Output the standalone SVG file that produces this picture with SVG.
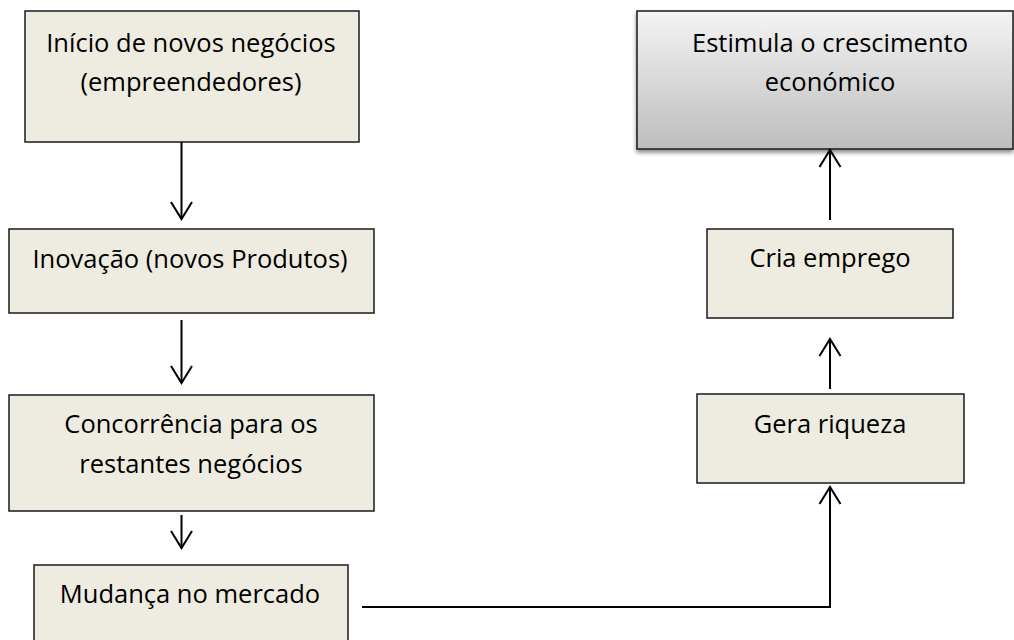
<svg xmlns="http://www.w3.org/2000/svg" width="1014" height="640" viewBox="0 0 1014 640">
<style>
.box{fill:#eeece1;stroke:#1a1a1a;stroke-width:1.5}
.t{font-family:"Open Sans","Noto Sans","Liberation Sans",sans-serif;font-size:25.5px;fill:#000;text-anchor:middle}
.c{fill:none;stroke:#000;stroke-width:2}
</style>
<defs>
<linearGradient id="g" x1="0" y1="0" x2="0" y2="1">
<stop offset="0" stop-color="#f4f4f4"/>
<stop offset="1" stop-color="#bdbdbd"/>
</linearGradient>
<filter id="sh" x="-5%" y="-5%" width="110%" height="120%">
<feDropShadow dx="0" dy="3" stdDeviation="2" flood-color="#000" flood-opacity="0.45"/>
</filter>
<marker id="a" viewBox="0 0 20 24" refX="18" refY="12" markerWidth="20" markerHeight="24" markerUnits="userSpaceOnUse" orient="auto">
<path d="M1,1.5 L18,12 L1,22.5" fill="none" stroke="#000" stroke-width="2"/>
</marker>
</defs>
<rect width="1014" height="640" fill="#fff"/>
<g id="n1"><rect class="box" x="25" y="11" width="334" height="131"/><text class="t" x="191" y="52">Início de novos negócios</text><text class="t" x="191" y="91">(empreendedores)</text></g>
<g id="n2"><rect class="box" x="9" y="229" width="365" height="84"/><text class="t" x="190" y="268">Inovação (novos Produtos)</text></g>
<g id="n3"><rect class="box" x="9" y="395" width="365" height="116"/><text class="t" x="191" y="433">Concorrência para os</text><text class="t" x="191" y="473">restantes negócios</text></g>
<g id="n4"><rect class="box" x="34" y="565" width="314" height="90"/><text class="t" x="190" y="603">Mudança no mercado</text></g>
<g id="n5"><rect class="box" x="697" y="394" width="267" height="89"/><text class="t" x="830" y="433">Gera riqueza</text></g>
<g id="n6"><rect class="box" x="707" y="229" width="246" height="89"/><text class="t" x="830" y="267">Cria emprego</text></g>
<g id="n7"><rect x="637" y="11" width="376" height="138" fill="url(#g)" stroke="#1a1a1a" stroke-width="1.5" filter="url(#sh)"/><text class="t" x="830" y="52">Estimula o crescimento</text><text class="t" x="830" y="91">económico</text></g>
<g id="connectors">
<path class="c" d="M181.5,142 V219" marker-end="url(#a)"/>
<path class="c" d="M181.5,320 V383" marker-end="url(#a)"/>
<path class="c" d="M181.5,515 V548" marker-end="url(#a)"/>
<path class="c" d="M362,607 H830 V487" marker-end="url(#a)"/>
<path class="c" d="M830,389 V339" marker-end="url(#a)"/>
<path class="c" d="M830,220 V150" marker-end="url(#a)"/>
</g>
</svg>
